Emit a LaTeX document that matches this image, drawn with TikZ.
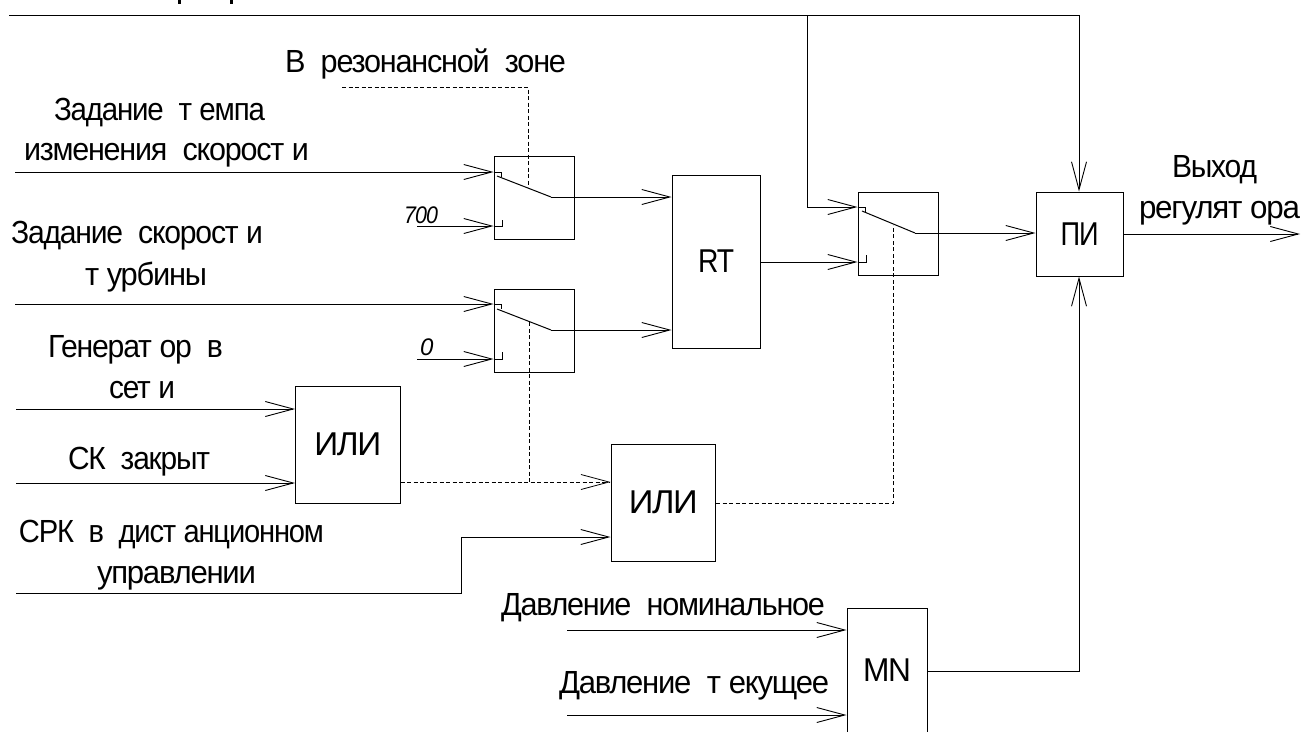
\documentclass[tikz,border=0pt]{standalone}
\usepackage{graphicx}
\usepackage{fontspec}
\setmainfont{Liberation Sans}[WordSpace=2.1,LetterSpace=-4]
\usetikzlibrary{arrows.meta}
% т with the wide gap the reference prints after it
\newcommand{\tgap}{т\kern8pt\relax}
\newcommand{\fitw}[2]{\resizebox{#1pt}{\height}{#2}}
\tikzset{
  x=1pt,y=-1pt,
  line/.style={line width=1pt,black},
  arr/.style={line,-{Straight Barb[length=28pt,width=15pt,line width=0.9pt]}},
  sigdash/.style={line width=0.85pt,black,dash pattern=on 4pt off 2.5pt},
  block/.style={draw,line width=1pt,rectangle,inner sep=0pt,font=\fontsize{33}{35}\selectfont},
  lab/.style={anchor=base west,inner sep=0pt,outer sep=0pt,font=\fontsize{32}{34}\selectfont},
  num/.style={anchor=base west,inner sep=0pt,outer sep=0pt,font=\fontsize{24}{26}\selectfont\itshape}
}
\newcommand{\blockat}[7]{% name, x0,y0,x1,y1, width of text, text
  \node[block,minimum width=#4pt-#2pt,minimum height=#5pt-#3pt] (#1) at ({(#2+#4)/2},{(#3+#5)/2}) {\fitw{#6}{#7}};}
\newcommand{\switchat}[5]{% name, x0,y0,x1,y1
  \node[block,minimum width=#4pt-#2pt,minimum height=#5pt-#3pt] (#1) at ({(#2+#4)/2},{(#3+#5)/2}) {};}
\begin{document}
\begin{tikzpicture}
\useasboundingbox (0,0) rectangle (1305,731);
% blocks
\switchat{s1}{494}{156}{574}{239}
\switchat{s2}{494}{289}{574}{372}
\switchat{s3}{858}{192}{938}{275}
\blockat{rt}{672}{175}{760}{348}{36}{RT}
\blockat{pi}{1036}{192}{1123}{276}{38}{ПИ}
\blockat{or1}{295.5}{386}{400}{503}{67}{ИЛИ}
\blockat{or2}{611}{444}{715.5}{561}{69}{ИЛИ}
\blockat{mn}{847}{608}{927}{733}{48}{MN}
% free ends and bends
\coordinate (top) at (9,15);
\coordinate (topr) at (1079,15);
\coordinate (tap) at (807,15);
\coordinate (a1) at (15,172);
\coordinate (a2) at (417,226);
\coordinate (b1) at (15,304);
\coordinate (b2) at (417,359);
\coordinate (c1) at (16,409);
\coordinate (c2) at (16,483);
\coordinate (d1) at (16,593);
\coordinate (d2) at (461.5,593);
\coordinate (d3) at (461.5,537);
\coordinate (e1) at (567,630);
\coordinate (e2) at (567,715);
\coordinate (f1) at (1079,671);
\coordinate (out) at (1300,234);
\coordinate (z0) at (342,87);
\coordinate (z1) at (528,87);
% switch contacts
\coordinate (s1t) at (501,177); \coordinate (s1a) at (497,176); \coordinate (s1m) at (551,197); \coordinate (s1b) at (502,220);
\coordinate (s2t) at (501,309); \coordinate (s2a) at (497,309); \coordinate (s2m) at (551,330); \coordinate (s2b) at (502,352);
\coordinate (s3t) at (865,213); \coordinate (s3a) at (862,211); \coordinate (s3m) at (915,233); \coordinate (s3b) at (866,255);
\coordinate (z1e) at (528,187);
\coordinate (z2e) at (529,322);
\coordinate (z3e) at (893,225);
\coordinate (j1) at (529,482);
\coordinate (g1) at (893,503);
% main lines
\draw[line] (top) -- (topr);
\draw[arr] (topr) -- (topr |- pi.north);
\draw[arr] (tap) -- (807,207) -- (s3.west |- 0,207);
\draw[arr] (a1) -- (s1.west |- a1);
\draw[arr] (a2) -- (s1.west |- a2);
\draw[arr] (b1) -- (s2.west |- b1);
\draw[arr] (b2) -- (s2.west |- b2);
\draw[arr] (s1m) -- (rt.west |- s1m);
\draw[arr] (s2m) -- (rt.west |- s2m);
\draw[arr] (rt.east |- 0,262) -- (s3.west |- 0,262);
\draw[arr] (s3m) -- (pi.west |- s3m);
\draw[arr] (pi.east |- out) -- (out);
\draw[arr] (c1) -- (or1.west |- c1);
\draw[arr] (c2) -- (or1.west |- c2);
\draw[arr] (d1) -- (d2) -- (d3) -- (or2.west |- d3);
\draw[arr] (e1) -- (mn.west |- e1);
\draw[arr] (e2) -- (mn.west |- e2);
\draw[arr] (mn.east |- f1) -- (f1) -- (f1 |- pi.south);
% contacts
\draw[line] (s1.west |- a1) -- (s1t |- a1) -- (s1t);
\draw[line] (s1a) -- (s1m);
\draw[line] (s1.west |- a2) -- (s1b |- a2) -- (s1b);
\draw[line] (s2.west |- b1) -- (s2t |- b1) -- (s2t);
\draw[line] (s2a) -- (s2m);
\draw[line] (s2.west |- b2) -- (s2b |- b2) -- (s2b);
\draw[line] (s3.west |- 0,207) -- (s3t |- 0,207) -- (s3t);
\draw[line] (s3a) -- (s3m);
\draw[line] (s3.west |- 0,262) -- (s3b |- 0,262) -- (s3b);
% dashed control lines
\draw[sigdash] (z0) -- (z1) -- (z1e);
\draw[sigdash] (z2e) -- (j1);
\draw[sigdash,-{Straight Barb[length=28pt,width=15pt,line width=0.8pt]}] (or1.east |- j1) -- (or2.west |- j1);
\draw[sigdash] (or2.east |- g1) -- (g1) -- (z3e);
% text cut by the top edge
\fill (177.5,0) rectangle (180.5,3.5);
\fill (229.5,0) rectangle (232.5,3.5);
% labels
\node[lab] (t1) at (285,72) {\fitw{281}{В резонансной зоне}};
\node[lab] (t2) at (54,120) {\fitw{211}{Задание \tgap емпа}};
\node[lab] (t3) at (24,160) {\fitw{285}{изменения скорос\tgap и}};
\node[lab] (t4) at (11,243) {\fitw{252}{Задание скорос\tgap и}};
\node[lab] (t5) at (85,285) {\fitw{122}{\tgap урбины}};
\node[lab] (t6) at (48,357) {\fitw{175}{Генера\tgap ор в}};
\node[lab] (t7) at (109,398) {\fitw{66}{се\tgap и}};
\node[lab] (t8) at (68,469) {\fitw{142}{СК закрыт}};
\node[lab] (t9) at (19,542) {\fitw{305}{СРК в дис\tgap анционном}};
\node[lab] (t10) at (97,583) {\fitw{159}{управлении}};
\node[lab] (t11) at (501,615) {\fitw{324}{Давление номинальное}};
\node[lab] (t12) at (559,693) {\fitw{270}{Давление \tgap екущее}};
\node[lab] (t13) at (1172,177) {\fitw{85}{Выход}};
\node[lab] (t14) at (1139,218) {\fitw{161}{регуля\tgap ора}};
\node[num] (n1) at (404,223) {\fitw{34}{700}};
\node[num] (n2) at (420,355) {0};
\end{tikzpicture}
\end{document}
